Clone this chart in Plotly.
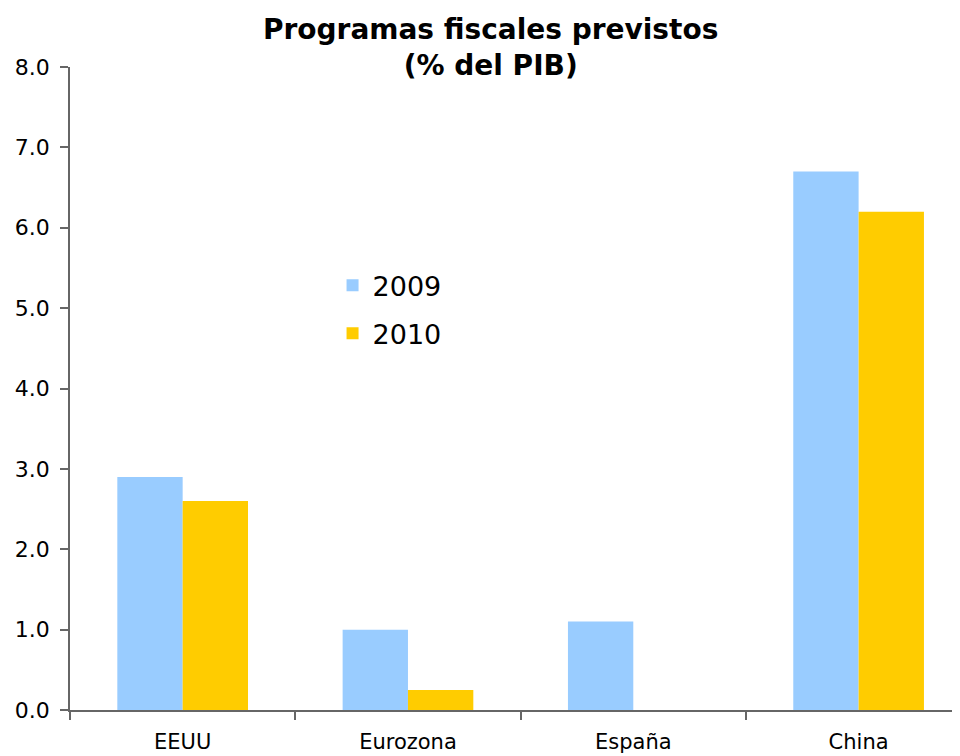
import plotly.graph_objects as go

categories = ["EEUU", "Eurozona", "España", "China"]
values_2009 = [2.9, 1.0, 1.1, 6.7]
values_2010 = [2.6, 0.25, None, 6.2]
series_names = ["2009", "2010"]
y_tickvals = [0, 1, 2, 3, 4, 5, 6, 7, 8]
y_ticktext = ["0.0", "1.0", "2.0", "3.0", "4.0", "5.0", "6.0", "7.0", "8.0"]

FONT = "DejaVu Sans"
AXIS_COLOR = "#666666"

fig = go.Figure()
fig.add_trace(go.Bar(x=categories, y=values_2009, name=series_names[0], legendgroup="g1",
                     marker=dict(color="#99CCFF", line=dict(width=0))))
fig.add_trace(go.Bar(x=categories, y=values_2010, name=series_names[1], legendgroup="g2",
                     marker=dict(color="#FFCC00", line=dict(width=0))))

fig.update_layout(
    width=952, height=748,
    paper_bgcolor="white", plot_bgcolor="white",
    margin=dict(l=62, r=0, t=59, b=46, autoexpand=False),
    barmode="group", bargap=0.42, bargroupgap=0,
    font=dict(family=FONT, color="black"),
    title=dict(text="<b>Programas fiscales previstos<br>(% del PIB)</b>",
               font=dict(family=FONT, size=28, color="black"),
               x=0.507, xref="container", xanchor="center",
               y=1 - 31 / 748, yref="container", yanchor="middle"),
    legend=dict(x=0.295, y=0.698, xanchor="left", yanchor="top",
                font=dict(family=FONT, size=27, color="black"),
                bgcolor="rgba(0,0,0,0)", tracegroupgap=10),
    showlegend=True,
)

fig.update_xaxes(
    type="category", range=[-0.5, 3.45],
    showline=True, linecolor=AXIS_COLOR, linewidth=1.5,
    ticks="outside", tickson="boundaries", ticklen=8, tickcolor=AXIS_COLOR, tickwidth=1.5,
    showgrid=False, zeroline=False,
    tickfont=dict(family=FONT, size=21, color="black"),
    ticklabelstandoff=12,
)
fig.update_yaxes(
    range=[0, 8], tickvals=y_tickvals, ticktext=y_ticktext,
    showline=True, linecolor=AXIS_COLOR, linewidth=1.5,
    ticks="outside", ticklen=8, tickcolor=AXIS_COLOR, tickwidth=1.5,
    showgrid=False, zeroline=False,
    tickfont=dict(family=FONT, size=22, color="black"),
    ticklabelstandoff=6,
)

fig.write_html("out.html")
